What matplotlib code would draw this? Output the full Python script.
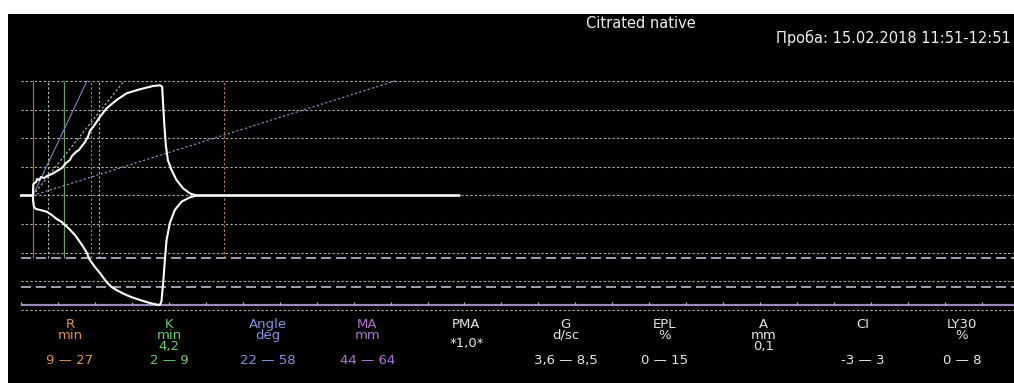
import matplotlib
matplotlib.use("Agg")
import matplotlib.pyplot as plt

# --- Thromboelastogram trace: time (min) vs. clot amplitude (mm) ---
upper_t = [-0.4, 1.2, 1.26, 1.63, 1.76, 2.03, 2.30, 2.71, 3.11, 3.79, 4.46, 5.14,
           5.68, 6.22, 6.49, 7.03, 7.44, 7.84, 8.25, 8.65, 8.92, 9.46, 10.28,
           11.18, 12.53, 13.88, 15.68, 17.48, 18.38, 18.69, 18.83, 18.99, 19.19,
           19.46, 19.96, 20.64, 21.53, 22.44, 23.34, 58.9]
upper_a = [0, 0, 8.0, 9.4, 11.5, 10.8, 12.9, 12.2, 13.6, 15.0, 17.1, 19.2,
           22.7, 24.8, 27.6, 30.4, 31.8, 34.6, 37.4, 40.9, 45.1, 48.6, 54.9,
           60.9, 66.7, 71.4, 74.2, 76.5, 77.0, 76.0, 63.2, 49.3, 35.3,
           24.8, 17.8, 10.8, 5.0, 1.5, 0, 0]

lower_t = [-0.4, 1.22, 1.22, 1.35, 1.62, 2.17, 3.07, 3.75, 4.42, 5.10, 5.99, 6.90,
           7.57, 8.11, 8.52, 8.83, 9.60, 10.28, 11.18, 11.86, 12.53, 13.42,
           14.33, 15.68, 17.03, 18.11, 18.38, 18.60, 18.83, 19.06, 19.29,
           19.74, 20.41, 21.32, 22.44, 23.34, 58.9]
lower_a = [0, 0, -3.1, -8.0, -9.4, -10.1, -11.3, -13.6, -16.4, -18.5, -22.7, -27.6,
           -32.5, -36.7, -40.2, -44.4, -50.0, -54.2, -60.5, -64.0, -66.1, -68.5,
           -70.6, -73.0, -75.1, -76.4, -76.5, -74.0, -61.1, -45.1, -31.1,
           -19.2, -10.1, -4.3, -1.3, 0, 0]

# Reaction markers (min)
r_time = 1.2
k_time = 4.2
k_range = [2, 9]
r_range = [9, 27]
ma_range = [44, 64]

# Tangent lines from R: time at which each reaches 80 mm
tangent_end_t = [8.52, 13.53, 50.2]
tangent_colors = ["#7c88cc", "#c4c4d4", "#9c9cdc"]
tangent_styles = ["-", (0, (2, 2)), (0, (2, 2))]

grid_levels = [-80, -60, -40, -20, 0, 20, 40, 60, 80]
axis_level = -76.5
tick_step = 5
axis_start = -0.4

# Parameter table
param_names = ["R", "K", "Angle", "MA", "PMA", "G", "EPL", "A", "CI", "LY30"]
param_units = ["min", "min", "deg", "mm", "", "d/sc", "%", "mm", "", "%"]
param_values = ["", "4,2", "", "", "*1,0*", "", "", "0,1", "", ""]
param_ranges = ["9 — 27", "2 — 9", "22 — 58", "44 — 64", "", "3,6 — 8,5",
                "0 — 15", "", "-3 — 3", "0 — 8"]
param_colors = ["#e0944e", "#66d066", "#8494e4", "#b474d4", "#e6e6e6",
                "#e6e6e6", "#e6e6e6", "#e6e6e6", "#e6e6e6", "#e6e6e6"]

title = "Citrated native"
sample = "Проба: 15.02.2018 11:51-12:51"

W, H = 1014, 383
fig = plt.figure(figsize=(W / 100, H / 100), dpi=100, facecolor="white")

# black panel
panel = fig.add_axes([8 / W, 0, (W - 8) / W, (H - 14) / H])
panel.set_facecolor("black")
panel.set_xticks([])
panel.set_yticks([])
for s in panel.spines.values():
    s.set_visible(False)

# data axes over the panel
ax = fig.add_axes([8 / W, 0, (W - 8) / W, (H - 14) / H], facecolor="none")
ax.set_xlim(-2.165, 133.96)
ax.set_ylim(-131.0, 126.8)
ax.axis("off")
xmax = 133.96

dot = (0, (2, 2))
grid_color = "#b4b4a4"
for lv in grid_levels:
    ax.hlines(lv, axis_start, xmax, colors=grid_color, linestyles=dot, lw=0.8, zorder=1)

# MA range dashed lines
for m in ma_range:
    ax.hlines(-m, axis_start, xmax, colors="#c4b4d4", linestyles=(0, (6, 3)), lw=1.2, zorder=1)

# time axis with ticks
ax.hlines(axis_level, axis_start, xmax, colors="#9c88b4", lw=1.6, zorder=2)
ticks = []
t = axis_start
while t <= xmax:
    ticks.append(t)
    t += tick_step
ax.vlines(ticks, axis_level, axis_level + 2.2, colors="#b8a8cc", lw=0.9, zorder=2)

# vertical markers
v_top, v_bot = 80, -ma_range[0]
ax.vlines(r_time, v_bot, v_top, colors="#9c6c5c", lw=0.9, zorder=2)
ax.vlines(r_time + k_time, v_bot, v_top, colors="#6c9c6c", lw=0.9, zorder=2)
ax.vlines(r_time + k_range[0], v_bot, v_top, colors="#c8c8a4", linestyles=dot, lw=0.8, zorder=2)
ax.vlines(r_time + k_range[1], v_bot, v_top, colors="#a4cc94", linestyles=dot, lw=0.8, zorder=2)
for rr in r_range:
    ax.vlines(rr, v_bot, v_top, colors="#c48454", linestyles=dot, lw=0.8, zorder=2)

# tangent lines
for te, c, ls in zip(tangent_end_t, tangent_colors, tangent_styles):
    ax.plot([r_time, te], [0, 80], color=c, linestyle=ls, lw=0.8, zorder=3)

# trace
ax.plot(upper_t, upper_a, color="white", lw=1.5, zorder=4, solid_joinstyle="round")
ax.plot(lower_t, lower_a, color="white", lw=1.5, zorder=4, solid_joinstyle="round")

# text overlay in pixel coordinates
ov = fig.add_axes([0, 0, 1, 1], facecolor="none")
ov.set_xlim(0, W)
ov.set_ylim(H, 0)
ov.axis("off")

ov.text(641, 23, title, color="#f0f0f0", fontsize=10.5, ha="center", va="center")
ov.text(1011, 38, sample, color="#f0f0f0", fontsize=10.5, ha="right", va="center")

col_x0, col_dx = 70, 99.1
fs = 9.5
row_step = 11
for i, (n, u, v, r, c) in enumerate(zip(param_names, param_units, param_values,
                                         param_ranges, param_colors)):
    x = col_x0 + col_dx * i
    if u:
        lines = [s for s in (n, u, v) if s]
        # baseline of a multi-line block is that of its last line
        ov.text(x, 328 + row_step * (len(lines) - 1), "\n".join(lines), color=c,
                fontsize=fs, ha="center", va="baseline",
                multialignment="center", linespacing=0.8)
    else:
        ov.text(x, 328, n, color=c, fontsize=fs, ha="center", va="baseline")
        if v:
            ov.text(x, 347, v, color=c, fontsize=fs, ha="center", va="baseline")
    if r:
        ov.text(x, 364, r, color=c, fontsize=fs, ha="center", va="baseline")

fig.savefig("out.png", dpi=100, facecolor="white")
